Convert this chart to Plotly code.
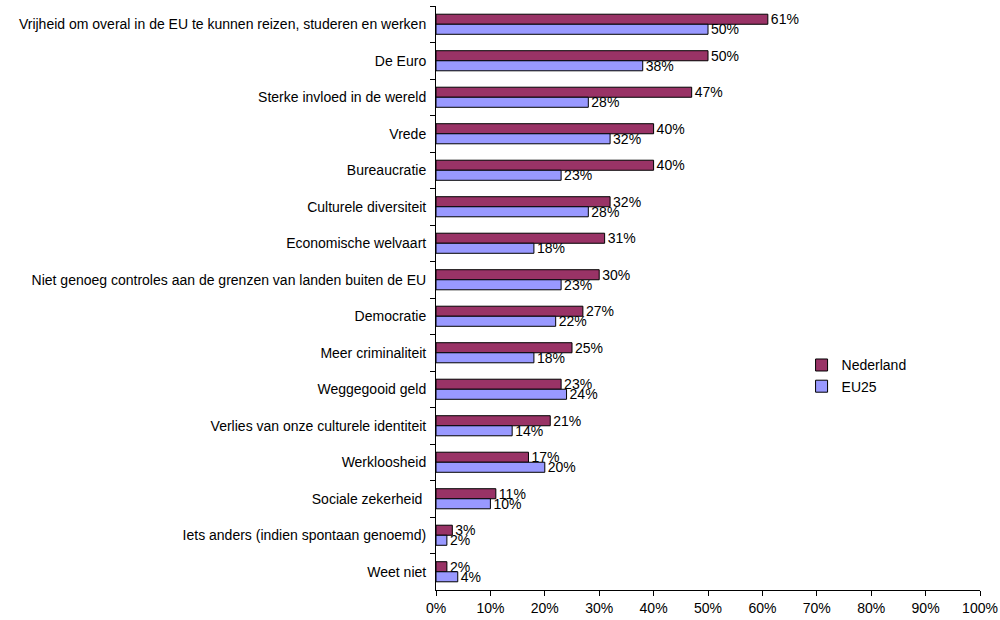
import plotly.graph_objects as go

categories = [
    "Vrijheid om overal in de EU te kunnen reizen, studeren en werken",
    "De Euro",
    "Sterke invloed in de wereld",
    "Vrede",
    "Bureaucratie",
    "Culturele diversiteit",
    "Economische welvaart",
    "Niet genoeg controles aan de grenzen van landen buiten de EU",
    "Democratie",
    "Meer criminaliteit",
    "Weggegooid geld",
    "Verlies van onze culturele identiteit",
    "Werkloosheid",
    "Sociale zekerheid ",
    "Iets anders (indien spontaan genoemd)",
    "Weet niet",
]
nederland = [61, 50, 47, 40, 40, 32, 31, 30, 27, 25, 23, 21, 17, 11, 3, 2]
eu25 = [50, 38, 28, 32, 23, 28, 18, 23, 22, 18, 24, 14, 20, 10, 2, 4]
x_ticks = list(range(0, 101, 10))

FS = 14

fig = go.Figure()
fig.add_trace(go.Bar(
    y=categories, x=nederland, orientation="h", name="Nederland",
    marker=dict(color="#993366", line=dict(color="black", width=1)),
    text=[f"{v}%" for v in nederland], textposition="outside",
    textfont=dict(color="black", size=FS), cliponaxis=False,
    constraintext="none",
))
fig.add_trace(go.Bar(
    y=categories, x=eu25, orientation="h", name="EU25",
    marker=dict(color="#9999FF", line=dict(color="black", width=1)),
    text=[f"{v}%" for v in eu25], textposition="outside",
    textfont=dict(color="black", size=FS), cliponaxis=False,
    constraintext="none",
))

fig.update_layout(
    width=1000, height=620,
    margin=dict(l=436, r=20, t=6, b=30, autoexpand=False),
    paper_bgcolor="white", plot_bgcolor="white",
    font=dict(family="Liberation Sans, Arial, sans-serif", size=FS, color="black"),
    barmode="group", bargap=0.45, bargroupgap=0,
    showlegend=True,
    legend=dict(x=0.672, y=0.412, xanchor="left", yanchor="top",
                bgcolor="rgba(0,0,0,0)", font=dict(size=FS),
                itemwidth=30, tracegroupgap=0),
    xaxis=dict(range=[0, 100], tickvals=x_ticks, ticktext=[f"{t}%" for t in x_ticks],
               showgrid=False, zeroline=False, showline=True, linecolor="black",
               linewidth=1, ticks="outside", ticklen=5, tickcolor="black",
               automargin=False),
    yaxis=dict(autorange="reversed", showgrid=False, showline=True, linecolor="black",
               linewidth=1, ticks="outside", ticklen=5, tickcolor="black",
               tickson="boundaries", automargin=False, ticklabelstandoff=6),
)

fig.write_html("out.html", config={"displayModeBar": False},
               post_script="document.body.style.margin='0';")
